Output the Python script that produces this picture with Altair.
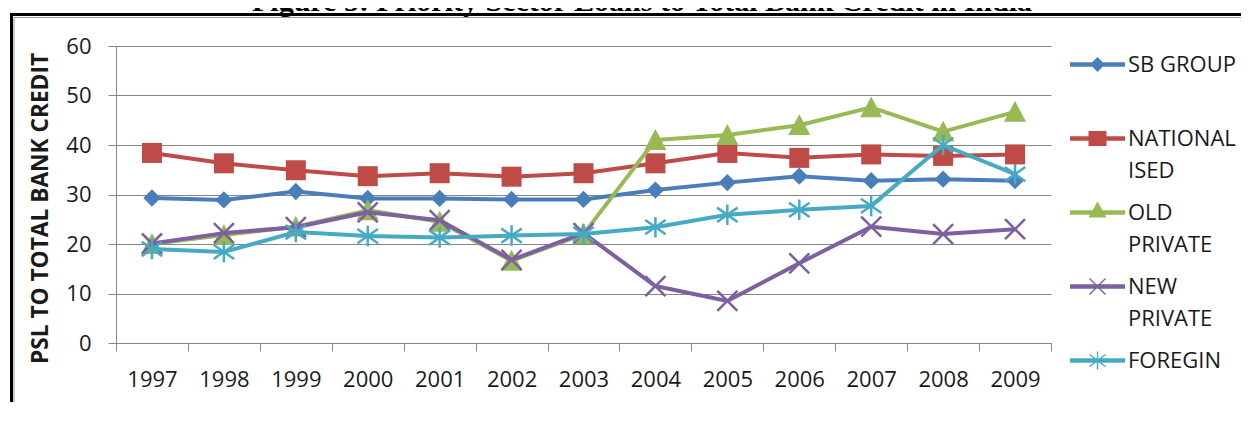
import math
import altair as alt
import pandas as pd

# ---------------- data ----------------
years = ["1997", "1998", "1999", "2000", "2001", "2002", "2003",
         "2004", "2005", "2006", "2007", "2008", "2009"]
series_names = ["SB GROUP", "NATIONAL ISED", "OLD PRIVATE", "NEW PRIVATE", "FOREGIN"]
sb_group = [29.3, 28.9, 30.6, 29.2, 29.2, 29.0, 29.0, 30.9, 32.4, 33.7, 32.8, 33.1, 32.8]
nationalised = [38.4, 36.3, 34.9, 33.7, 34.3, 33.6, 34.3, 36.3, 38.4, 37.4, 38.1, 37.8, 38.1]
old_private = [20.0, 21.8, 23.5, 26.8, 24.5, 16.6, 22.0, 41.0, 42.0, 44.0, 47.6, 42.7, 46.7]
new_private = [20.1, 22.2, 23.4, 26.4, 24.8, 16.8, 22.2, 11.5, 8.5, 16.1, 23.5, 22.0, 23.0]
foregin = [19.0, 18.4, 22.4, 21.6, 21.3, 21.7, 22.0, 23.4, 25.9, 26.9, 27.7, 40.0, 34.1]
y_ticks = [0, 10, 20, 30, 40, 50, 60]
colors = ["#4A7EBB", "#BE4B48", "#98B954", "#7D60A0", "#46AAC5"]
title_text = "Figure 5: Priority Sector Loans to Total Bank Credit in India"
y_title = "PSL TO TOTAL BANK CREDIT"

rows = []
for name, vals in zip(series_names, [sb_group, nationalised, old_private, new_private, foregin]):
    for yr, v in zip(years, vals):
        rows.append({"year": yr, "series": name, "value": v})
df = pd.DataFrame(rows)

FONT = "Open Sans"
TXT = "#1a1a1a"
GRID = "#868686"

# ---------------- legend glyph paths (unit = 27.5 px) ----------------
U = 27.5


def bar(x1, y1, x2, y2, w):
    x1, y1, x2, y2, w = x1 / U, y1 / U, x2 / U, y2 / U, w / U
    dx, dy = x2 - x1, y2 - y1
    L = math.hypot(dx, dy)
    nx, ny = -dy / L * w / 2, dx / L * w / 2
    pts = [(x1 + nx, y1 + ny), (x2 + nx, y2 + ny), (x2 - nx, y2 - ny), (x1 - nx, y1 - ny)]
    area = sum(pts[i][0] * pts[(i + 1) % 4][1] - pts[(i + 1) % 4][0] * pts[i][1] for i in range(4))
    if area < 0:
        pts.reverse()
    return "M" + "L".join(f"{x:.3f},{y:.3f}" for x, y in pts) + "Z"


def poly(pts):
    return "M" + "L".join(f"{x / U:.3f},{y / U:.3f}" for x, y in pts) + "Z"


line_seg = bar(-27.5, 0, 27.5, 0, 4.5)
legend_paths = [
    line_seg + poly([(0, -7.5), (7.5, 0), (0, 7.5), (-7.5, 0)]),
    line_seg + poly([(-9, -7.5), (9, -7.5), (9, 7.5), (-9, 7.5)]),
    line_seg + poly([(0, -11), (9, 5), (-9, 5)]),
    line_seg + bar(-8, -8, 8, 8, 1.4) + bar(-8, 8, 8, -8, 1.4),
    line_seg + bar(0, -9, 0, 9, 1.4) + bar(-8, -6, 8, 6, 1.4) + bar(-8, 6, 8, -6, 1.4),
]

# ---------------- chart ----------------
x_enc = alt.X(
    "year:O",
    bandPosition=0.5,
    scale=alt.Scale(type="band", domain=years, paddingInner=0, paddingOuter=0),
    axis=alt.Axis(
        title=None, labelAngle=0, tickBand="extent", tickSize=8, tickColor=GRID,
        domainColor=GRID, labelFont=FONT, labelFontSize=22, labelColor=TXT,
        labelPadding=18, grid=False,
    ),
)
y_enc = alt.Y(
    "value:Q",
    scale=alt.Scale(domain=[0, 60], nice=False),
    axis=alt.Axis(
        values=y_ticks, title=y_title, titleFont=FONT, titleFontSize=22.7,
        titleFontWeight="bold", titleColor=TXT, titleAngle=270, titleX=-76, titleY=162,
        titleAlign="center", titleBaseline="middle",
        tickSize=8, tickColor=GRID, domainColor=GRID, gridColor=GRID, grid=True,
        labelFont=FONT, labelFontSize=22, labelColor=TXT, labelPadding=17,
    ),
)

base = alt.Chart(df).encode(x=x_enc, y=y_enc)

marker_specs = [
    dict(shape="diamond", size=300, filled=True),
    dict(shape="square", size=400, filled=True),
    dict(shape="M0,-1L1,0.9L-1,0.9Z", size=484, filled=True),
    dict(shape="M-1,-1L1,1M-1,1L1,-1", size=400, filled=False, strokeWidth=2.5),
    dict(shape="M0,-1L0,1M-1,-0.7L1,0.7M-1,0.7L1,-0.7", size=420, filled=False, strokeWidth=2.5),
]

layers = []
for name, color, spec in zip(series_names, colors, marker_specs):
    sub = base.transform_filter(alt.datum.series == name)
    layers.append(sub.mark_line(color=color, strokeWidth=4, strokeJoin="round", strokeCap="round"))
    layers.append(sub.mark_point(color=color, opacity=1, **spec))

legend = alt.Legend(
    orient="none", legendX=954, legendY=-9, title=None, padding=0,
    symbolSize=U * U * 4, symbolStrokeWidth=0, symbolOpacity=1,
    labelFont=FONT, labelFontSize=22, labelColor=TXT, labelBaseline="middle",
    labelOffset=3, labelLimit=300, rowPadding=3,
    labelExpr="datum.label == 'SB GROUP' ? ['SB GROUP', ''] : split(datum.label, ' ')",
)
legend_layer = base.mark_point(opacity=0, filled=True).encode(
    color=alt.Color("series:N", scale=alt.Scale(domain=series_names, range=colors), legend=legend),
    shape=alt.Shape("series:N", scale=alt.Scale(domain=series_names, range=legend_paths), legend=legend),
)
layers.append(legend_layer)

deco = pd.DataFrame({"t": [title_text]})
title_layer = alt.Chart(deco).mark_text(
    font="Liberation Serif", fontSize=30, fontWeight="bold", align="center",
    baseline="alphabetic", color="black",
).encode(text="t:N", x=alt.value(526), y=alt.value(-35))
frame_top = alt.Chart(deco).mark_rule(color="black", strokeWidth=3).encode(
    x=alt.value(-106), x2=alt.value(1125), y=alt.value(-31.5))
frame_left = alt.Chart(deco).mark_rule(color="black", strokeWidth=3).encode(
    x=alt.value(-104.5), y=alt.value(-33), y2=alt.value(356))
inner_top = alt.Chart(deco).mark_rule(color="#9a9a9a", strokeWidth=1).encode(
    x=alt.value(-102), x2=alt.value(1125), y=alt.value(-28.5))
inner_left = alt.Chart(deco).mark_rule(color="#9a9a9a", strokeWidth=1).encode(
    x=alt.value(-102), y=alt.value(-28.5), y2=alt.value(356))
layers += [title_layer, inner_top, inner_left, frame_top, frame_left]

chart = alt.layer(*layers).properties(
    width=935, height=297,
    padding={"left": 108, "top": 38, "right": 190, "bottom": 59},
    autosize=alt.AutoSizeParams(type="none"),
).configure(
    view=alt.ViewConfig(stroke=None),
    style={"guide-label": {"lineHeight": 32}},
    background="white",
)

chart.save("out.html", embed_options={"renderer": "svg", "actions": False})
